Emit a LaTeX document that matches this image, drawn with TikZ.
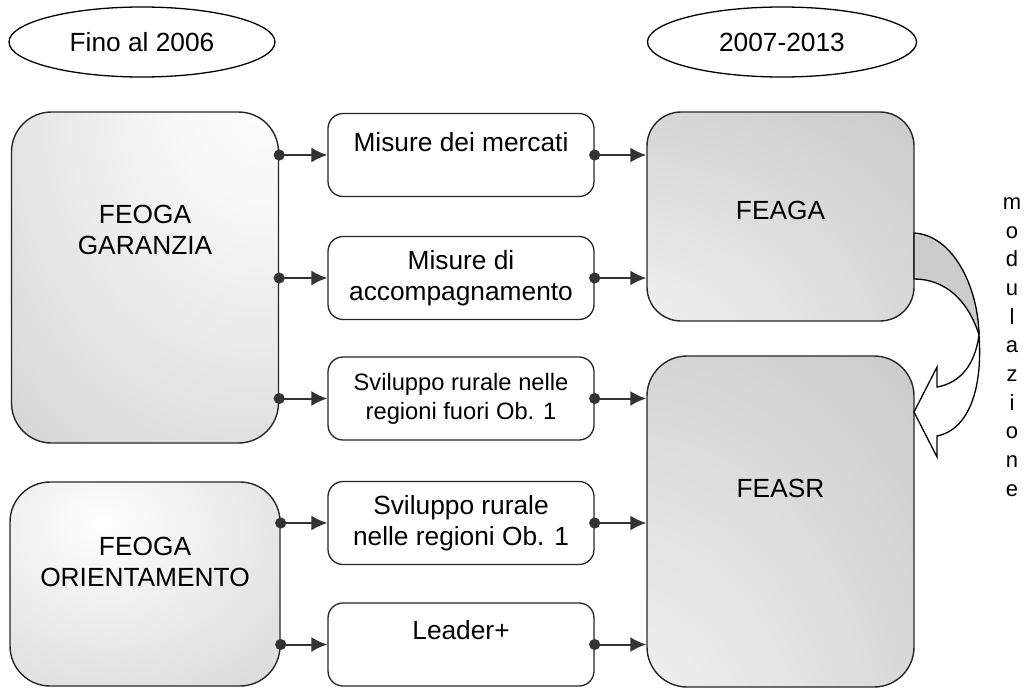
\documentclass[tikz,border=0pt]{standalone}
\usepackage{fontspec}
\setmainfont{Liberation Sans}
\usetikzlibrary{arrows.meta,shapes.geometric}
\newcommand\testo{\fontsize{26.3}{31}\selectfont}
\newcommand\testopiccolo{\fontsize{23.7}{29}\selectfont}

% sfumature dei fondi
\pgfdeclareradialshading{garanzialuce}{\pgfpoint{25bp}{32bp}}{color(0bp)=(white);color(18bp)=(white!97!black);color(90bp)=(black!25);color(170bp)=(black!25)}
\pgfdeclareradialshading{orientluce}{\pgfpoint{-8bp}{15bp}}{color(0bp)=(white);color(12bp)=(white!96!black);color(80bp)=(black!25);color(170bp)=(black!25)}
\pgfdeclareradialshading{nuovoluce}{\pgfpoint{-42bp}{-50bp}}{color(0bp)=(white);color(10bp)=(white!97!black);color(85bp)=(black!24);color(170bp)=(black!24)}

\tikzset{
  fondo/.style={draw=black!85, line width=1.4pt, rounded corners=40pt,
    minimum width=267pt, font=\testo, align=center},
  voce/.style={draw=black!85, fill=white, line width=1.3pt, rounded corners=15pt,
    minimum width=266pt, minimum height=83pt, font=\testo, align=center},
  periodo/.style={ellipse, draw=black, fill=white, line width=1.3pt,
    minimum width=266pt, minimum height=70pt, font=\testo},
  flusso/.style={draw=black!80, line width=2pt,
    {Circle[length=11pt]}-{Latex[length=16pt,width=15pt]}, shorten <=-5.5pt},
}

\begin{document}
\begin{tikzpicture}[x=1pt, y=-1pt]
  \useasboundingbox (0,0) rectangle (1030,688);

  \node[periodo] (prima) at (142,42) {Fino al 2006};
  \node[periodo, minimum width=269pt] (dopo) at (782,42) {2007-2013};

  % fondi fino al 2006
  \node[fondo, shading=garanzialuce, minimum height=331pt,
    label={[font=\testo, align=center, yshift=48pt]center:FEOGA\\GARANZIA}]
    (garanzia) at (145,277.5) {};
  \node[fondo, shading=orientluce, minimum width=270pt, minimum height=204pt,
    label={[font=\testo, align=center, yshift=22pt]center:FEOGA\\ORIENTAMENTO}]
    (orientamento) at (145,584) {};

  % fondi 2007-2013
  \node[fondo, shading=nuovoluce, minimum height=209pt, rounded corners=34pt,
    label={[font=\testo, yshift=6pt]center:FEAGA}]
    (feaga) at (780.5,216.5) {};
  \node[fondo, shading=nuovoluce, minimum height=331pt,
    label={[font=\testo, yshift=33pt]center:FEASR}]
    (feasr) at (780.5,521.5) {};

  % misure
  \node[voce, label={[font=\testo, yshift=13pt]center:Misure dei mercati}]
    (mercati) at (461,155) {};
  \node[voce] (accomp) at (461,278) {Misure di\\accompagnamento};
  \node[voce, font=\testopiccolo] (fuori) at (461,398.5) {Sviluppo rurale nelle\\regioni fuori Ob. 1};
  \node[voce] (obuno) at (461,523) {Sviluppo rurale\\nelle regioni Ob. 1};
  \node[voce, label={[font=\testo, yshift=14pt]center:Leader+}]
    (leader) at (461,644.5) {};

  \foreach \v in {mercati, accomp, fuori}
    \draw[flusso] (garanzia.east |- \v.west) -- (\v.west);
  \foreach \v in {obuno, leader}
    \draw[flusso] (orientamento.east |- \v.west) -- (\v.west);
  \foreach \v in {mercati, accomp}
    \draw[flusso] (\v.east) -- (feaga.west |- \v.east);
  \foreach \v in {fuori, obuno, leader}
    \draw[flusso] (\v.east) -- (feasr.west |- \v.east);

  % modulazione
  \filldraw[fill=black!20, line width=1.3pt, line join=round]
    (914,233) .. controls (952,235) and (978,285) .. (979,335)
    .. controls (968,300) and (945,279) .. (914,279) -- cycle;
  \filldraw[fill=white, line width=1.3pt, line join=miter]
    (979,335) .. controls (975,365) and (960,383) .. (937,387)
    -- (937,367) -- (914,412) -- (937,457) -- (937,436)
    .. controls (968,430) and (983,390) .. (979,335) -- cycle;
  \node[font=\fontsize{22}{28.7}\selectfont, align=center] (modulazione) at (1012,347)
    {m\\o\\d\\u\\l\\a\\z\\i\\o\\n\\e};
\end{tikzpicture}
\end{document}
